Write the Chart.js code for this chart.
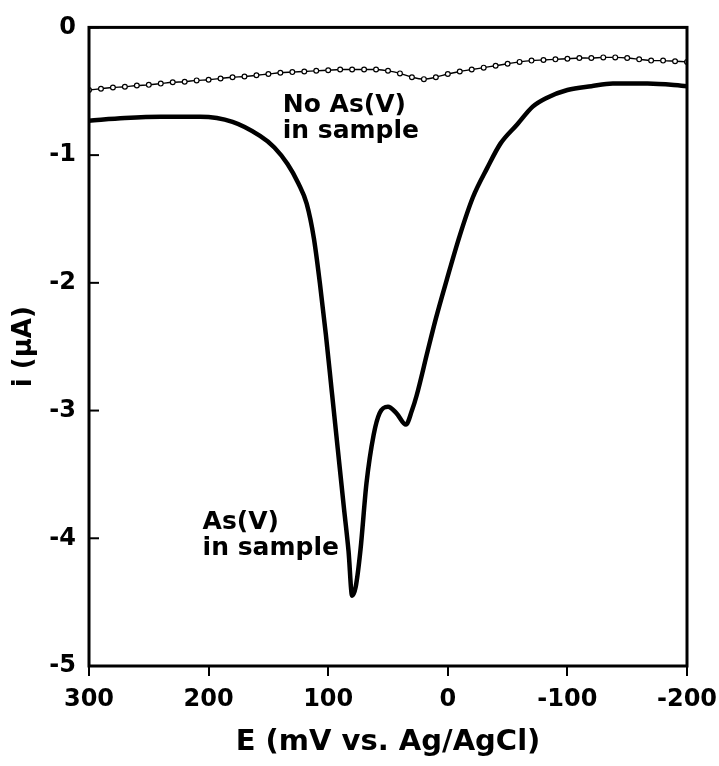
<!DOCTYPE html>
<html>
<head>
<meta charset="utf-8">
<script src="https://cdn.jsdelivr.net/npm/chart.js@4.4.1/dist/chart.umd.min.js"></script>
<style>
    html, body { margin: 0; padding: 0; background: #fff; }
    canvas { display: block; }
</style>
</head>
<body>
<canvas id="voltammogram" width="719" height="766"></canvas>
<script>
// potential (mV vs. Ag/AgCl) and current (uA)
const blankPotential = [300, 290, 280, 270, 260, 250, 240, 230, 220, 210, 200, 190, 180, 170, 160, 150, 140, 130, 120, 110,
    100, 90, 80, 70, 60, 50, 40, 30, 20, 10, 0, -10, -20, -30, -40, -50, -60, -70, -80, -90,
    -100, -110, -120, -130, -140, -150, -160, -170, -180, -190, -200];
const blankCurrent = [-0.49, -0.48, -0.47, -0.465, -0.455, -0.45, -0.44, -0.43, -0.425, -0.415, -0.41, -0.40, -0.39, -0.385, -0.375, -0.365, -0.355, -0.35, -0.345, -0.34,
    -0.335, -0.33, -0.33, -0.33, -0.33, -0.34, -0.36, -0.39, -0.405, -0.39, -0.365, -0.345, -0.33, -0.315, -0.30, -0.285, -0.27, -0.26, -0.255, -0.25,
    -0.245, -0.24, -0.24, -0.235, -0.235, -0.24, -0.25, -0.26, -0.26, -0.265, -0.27];

const samplePotential = [300, 270, 240, 207, 180, 157, 145, 134, 125, 118, 112, 107, 102, 97, 92, 87, 83, 80,
    77, 73, 68, 62, 57, 50, 43, 35, 30, 26, 17, 10, 1, -10, -21, -33, -44, -58, -71, -83, -100, -120, -138, -167, -200];
const sampleCurrent = [-0.73, -0.71, -0.70, -0.70, -0.74, -0.85, -0.94, -1.07, -1.22, -1.38, -1.65, -2.0, -2.4, -2.85, -3.3, -3.75, -4.1, -4.45,
    -4.38, -4.09, -3.57, -3.19, -3.02, -2.97, -3.02, -3.11, -3.0, -2.88, -2.54, -2.28, -1.98, -1.63, -1.33, -1.10, -0.91, -0.76, -0.62, -0.55, -0.49, -0.46, -0.44, -0.44, -0.46];

const xTicks = [300, 200, 100, 0, -100, -200];
const yTicks = [0, -1, -2, -3, -4, -5];

const notes = [
    { lines: ["No As(V)", "in sample"], e: 138, i: -0.66 },
    { lines: ["As(V)", "in sample"], e: 205, i: -3.93 }
];

const FONT = "'DejaVu Sans', Verdana, sans-serif";

// frame, inward y ticks and the text notes
const framePlugin = {
    id: "frame",
    afterDraw(chart) {
        const { ctx, chartArea: a, scales } = chart;
        ctx.save();
        ctx.strokeStyle = "#000";
        ctx.lineWidth = 2;
        yTicks.forEach(v => {
            const y = scales.y.getPixelForValue(v);
            ctx.beginPath();
            ctx.moveTo(a.left, y);
            ctx.lineTo(a.left + 10, y);
            ctx.stroke();
        });
        ctx.lineWidth = 3;
        ctx.strokeRect(a.left, a.top, a.right - a.left, a.bottom - a.top);

        ctx.fillStyle = "#000";
        ctx.font = "bold 25px " + FONT;
        ctx.textAlign = "left";
        ctx.textBaseline = "alphabetic";
        notes.forEach(n => {
            const x = scales.x.getPixelForValue(n.e);
            const y = scales.y.getPixelForValue(n.i);
            n.lines.forEach((t, k) => ctx.fillText(t, x, y + k * 26));
        });
        ctx.restore();
    }
};

new Chart(document.getElementById("voltammogram"), {
    type: "line",
    data: {
        datasets: [
            {
                label: "No As(V) in sample",
                data: blankPotential.map((e, k) => ({ x: e, y: blankCurrent[k] })),
                borderColor: "#000",
                borderWidth: 1.4,
                pointRadius: 2.4,
                pointBorderWidth: 1.2,
                pointBackgroundColor: "#fff",
                pointBorderColor: "#000",
                tension: 0.3
            },
            {
                label: "As(V) in sample",
                data: samplePotential.map((e, k) => ({ x: e, y: sampleCurrent[k] })),
                borderColor: "#000",
                borderWidth: 4.5,
                pointRadius: 0,
                cubicInterpolationMode: "monotone"
            }
        ]
    },
    options: {
        responsive: false,
        animation: false,
        layout: { padding: { top: 18, right: 32, left: 0, bottom: 4 } },
        plugins: {
            legend: { display: false },
            tooltip: { enabled: false }
        },
        scales: {
            x: {
                type: "linear",
                reverse: true,
                min: -200,
                max: 300,
                afterFit: s => { s.height = 96; s.paddingLeft = 0; s.paddingRight = 0; },
                afterBuildTicks: s => { s.ticks = xTicks.map(v => ({ value: v })); },
                ticks: { color: "#000", padding: 9, font: { family: FONT, size: 24, weight: "bold" } },
                grid: { drawOnChartArea: false, color: "#000", lineWidth: 2, tickLength: 10 },
                border: { display: false },
                title: {
                    display: true,
                    text: "E (mV vs. Ag/AgCl)",
                    color: "#000",
                    padding: { top: 4, bottom: 2 },
                    font: { family: FONT, size: 29, weight: "bold" }
                }
            },
            y: {
                min: -5,
                max: 0,
                afterFit: s => { s.width = 89; },
                afterBuildTicks: s => { s.ticks = yTicks.map(v => ({ value: v })); },
                ticks: { color: "#000", padding: 13, font: { family: FONT, size: 24, weight: "bold" } },
                grid: { drawOnChartArea: false, drawTicks: false },
                border: { display: false },
                title: {
                    display: true,
                    text: "i (μA)",
                    color: "#000",
                    padding: { top: 9, bottom: 4 },
                    font: { family: FONT, size: 26, weight: "bold" }
                }
            }
        }
    },
    plugins: [framePlugin]
});
</script>
</body>
</html>
